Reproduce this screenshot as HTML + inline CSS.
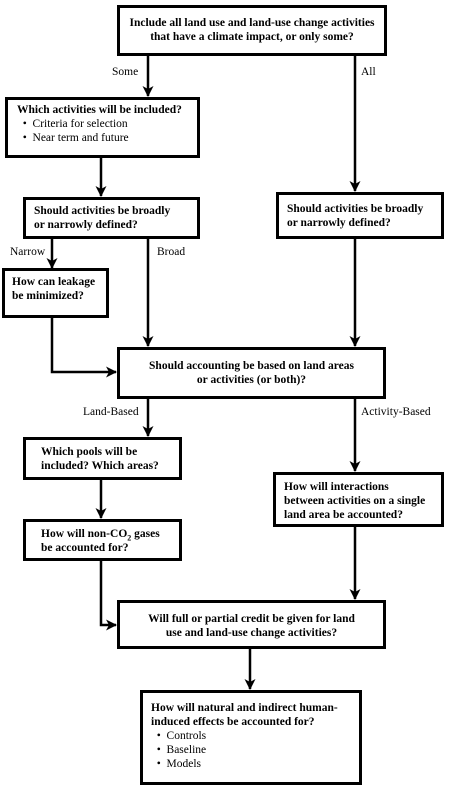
<!DOCTYPE html>
<html><head><style>
body{margin:0;width:450px;height:785px;background:#fff;position:relative;overflow:hidden;font-family:"Liberation Serif",serif;font-size:11.5px;color:#000}
.b{position:absolute;border:3px solid #000;box-sizing:border-box;background:#fff;font-weight:bold;line-height:14px}
.c{text-align:center}
.l{position:absolute;font-size:11.5px;line-height:12px}
.n{font-weight:normal}
svg{position:absolute;left:0;top:0}
</style></head><body>
<svg width="450" height="785">
<defs><marker id="a" markerWidth="11" markerHeight="11" refX="10" refY="5.5" orient="auto" markerUnits="userSpaceOnUse"><path d="M0,0 L11,5.5 L0,11 L3,5.5 z" fill="#000"/></marker></defs>
<g stroke="#000" stroke-width="2.5" fill="none">
<path d="M148,55 V96" marker-end="url(#a)"/>
<path d="M355,55 V191" marker-end="url(#a)"/>
<path d="M101,157 V196" marker-end="url(#a)"/>
<path d="M52,238 V268" marker-end="url(#a)"/>
<path d="M148,238 V346" marker-end="url(#a)"/>
<path d="M355,238 V346" marker-end="url(#a)"/>
<path d="M52,317 V372 H116" marker-end="url(#a)"/>
<path d="M148,398 V436" marker-end="url(#a)"/>
<path d="M355,398 V471" marker-end="url(#a)"/>
<path d="M101,479 V518" marker-end="url(#a)"/>
<path d="M101,560 V625 H116" marker-end="url(#a)"/>
<path d="M355,526 V599" marker-end="url(#a)"/>
<path d="M250,648 V689" marker-end="url(#a)"/>
</g></svg>
<div class="b c" style="left:117px;top:5px;width:270px;height:51px;padding-top:8px">Include all land use and land-use change activities<br>that have a climate impact, or only some?</div>
<div class="l" style="left:112px;top:66px">Some</div>
<div class="l" style="left:361px;top:66px">All</div>
<div class="b" style="left:5px;top:97px;width:195px;height:61px;padding:3px 0 0 9px">Which activities will be included?<br><span class="n">&nbsp;&nbsp;•&nbsp; Criteria for selection<br>&nbsp;&nbsp;•&nbsp; Near term and future</span></div>
<div class="b" style="left:23px;top:197px;width:177px;height:42px;padding:4px 0 0 8px">Should activities be broadly<br>or narrowly defined?</div>
<div class="b" style="left:276px;top:192px;width:168px;height:47px;padding:7px 0 0 8px">Should activities be broadly<br>or narrowly defined?</div>
<div class="l" style="left:10px;top:246px">Narrow</div>
<div class="l" style="left:157px;top:246px">Broad</div>
<div class="b" style="left:2px;top:268px;width:107px;height:50px;padding:4px 0 0 7px">How can leakage<br>be minimized?</div>
<div class="b c" style="left:117px;top:347px;width:269px;height:52px;padding-top:9px">Should accounting be based on land areas<br>or activities (or both)?</div>
<div class="l" style="left:83px;top:406px">Land-Based</div>
<div class="l" style="left:361px;top:406px">Activity-Based</div>
<div class="b" style="left:23px;top:437px;width:159px;height:43px;padding:5px 0 0 15px">Which pools will be<br>included? Which areas?</div>
<div class="b" style="left:23px;top:519px;width:159px;height:42px;padding:5px 0 0 15px">How will non-CO<sub style="font-size:8px;line-height:0">2</sub> gases<br>be accounted for?</div>
<div class="b" style="left:273px;top:472px;width:171px;height:55px;padding:5px 0 0 8px">How will interactions<br>between activities on a single<br>land area be accounted?</div>
<div class="b c" style="left:117px;top:600px;width:269px;height:49px;padding-top:9px">Will full or partial credit be given for land<br>use and land-use change activities?</div>
<div class="b" style="left:140px;top:690px;width:222px;height:95px;padding:8px 0 0 8px">How will natural and indirect human-<br>induced effects be accounted for?<br><span class="n">&nbsp;&nbsp;•&nbsp; Controls<br>&nbsp;&nbsp;•&nbsp; Baseline<br>&nbsp;&nbsp;•&nbsp; Models</span></div>
</body></html>
